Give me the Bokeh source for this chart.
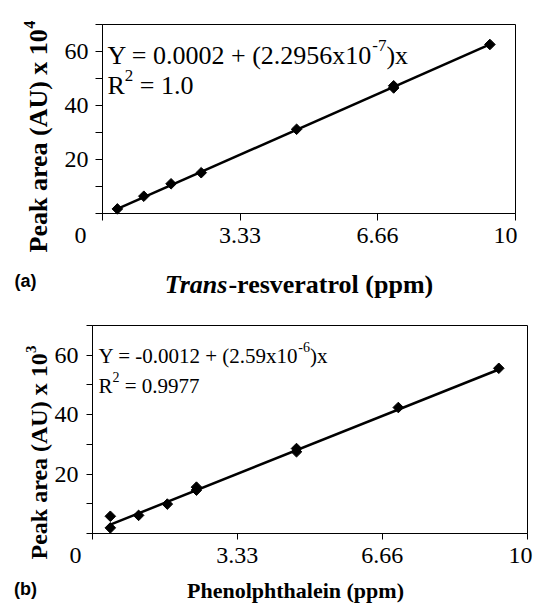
import math
from bokeh.plotting import figure
from bokeh.models import Range1d, FixedTicker, Label, LinearAxis
from bokeh.layouts import column
from bokeh.embed import file_html
from bokeh.resources import INLINE

# ---------------- data ----------------
res_conc = [0.36, 1.00, 1.66, 2.39, 4.70, 7.05, 7.05, 9.38]
res_area = [1.7, 6.4, 11.0, 15.1, 31.2, 46.5, 47.3, 62.6]
res_fit_x = [0.36, 9.38]
res_fit_y = [1.7, 62.6]

phe_conc = [0.41, 0.41, 1.06, 1.72, 2.39, 2.39, 4.69, 4.69, 7.03, 9.34]
phe_area = [5.8, 1.9, 6.1, 9.9, 14.6, 15.6, 27.5, 28.6, 42.4, 55.6]
phe_fit_x = [0.41, 9.34]
phe_fit_y = [3.0, 55.2]

x_range_data = (0, 10)
y_range_data = (0, 70)
x_major = [3.33, 6.66]
x_minor = [0, 10]
y_major = [20, 40, 60]
y_minor = [0, 10, 30, 50, 70]

SERIF = "Liberation Serif"
SANS = "Liberation Sans"
ORIGIN = 0  # page offset of the layout (positions below are page pixels)

# Times-compatible advance widths (1/1000 em) for placing superscripts
REG = {' ': 250, '.': 250, '=': 564, '+': 564, '-': 333, '(': 333, ')': 333,
       'x': 500, 'Y': 722, 'R': 667}
BOLD = {' ': 250, 'P': 611, 'e': 444, 'a': 500, 'k': 556, 'r': 444, '(': 333,
        'A': 722, 'U': 722, ')': 333, 'x': 500, '-': 333, 's': 389, 'v': 500,
        't': 333, 'o': 500, 'l': 278, 'p': 556, 'm': 833, 'h': 556, 'n': 556,
        'i': 278}
BOLDIT = {'T': 611, 'r': 389, 'a': 500, 'n': 556, 's': 389}


def tw(s, size, table=REG):
    return sum(table.get(c, 500) for c in s) * size / 1000.0


def make_panel(W, H, ytop, fl, fr, ft, fb, tick, standoff):
    """Canvas in page pixels; the data box spans fl..fr x ft..fb (page px)."""
    xl = ORIGIN
    p = figure(width=W, height=H, output_backend="svg", toolbar_location=None,
               x_axis_type=None, y_axis_type=None,
               x_range=Range1d(xl, xl + W), y_range=Range1d(ytop + H, ytop),
               min_border=0)
    p.min_border_left = p.min_border_right = 0
    p.min_border_top = p.min_border_bottom = 0
    p.outline_line_color = None
    p.background_fill_color = "white"
    p.border_fill_color = "white"
    x0, x1 = x_range_data
    y0, y1 = y_range_data
    kx = (fr - fl) / (x1 - x0)
    ky = (fb - ft) / (y1 - y0)
    p.extra_x_ranges = {"d": Range1d(x0 - (fl - xl) / kx,
                                     x0 + (xl + W - fl) / kx)}
    p.extra_y_ranges = {"d": Range1d(y0 - (ytop + H - fb) / ky,
                                     y0 + (fb - ytop) / ky)}

    xa = LinearAxis(x_range_name="d", fixed_location=fb, bounds=x_range_data,
                    ticker=FixedTicker(ticks=x_major, minor_ticks=x_minor))
    ya = LinearAxis(y_range_name="d", fixed_location=fl, bounds=y_range_data,
                    ticker=FixedTicker(ticks=y_major, minor_ticks=y_minor))
    for ax in (xa, ya):
        ax.axis_line_color = "black"
        ax.axis_line_width = 1
        ax.major_tick_line_color = "black"
        ax.minor_tick_line_color = "black"
        ax.major_tick_in = 0
        ax.minor_tick_in = 0
        ax.major_tick_out = tick
        ax.minor_tick_out = tick
        ax.major_label_standoff = standoff
        ax.major_label_text_font = SERIF
        ax.major_label_text_font_size = "24px"
        ax.major_label_text_color = "black"
    p.add_layout(xa, "below")
    p.add_layout(ya, "left")
    # plot box (top and right edges)
    p.quad(left=[x0], right=[x1], bottom=[y0], top=[y1],
           x_range_name="d", y_range_name="d",
           fill_color=None, line_color="black", line_width=1)
    return p


def add_label(p, px, py, text, size, style="normal", font=SERIF,
              align="left", baseline="alphabetic", angle=0.0):
    p.add_layout(Label(x=px, y=py, text=text,
                       text_font=font, text_font_size=f"{size}px",
                       text_font_style=style, text_color="black",
                       text_align=align, text_baseline=baseline,
                       angle=angle))


# ---------------- panel (a) ----------------
p1 = make_panel(534, 298, 0, 102, 515, 24, 213, 7, 7)

p1.line(res_fit_x, res_fit_y, line_color="black", line_width=2.5,
        x_range_name="d", y_range_name="d")
p1.scatter(res_conc, res_area, marker="square", angle=math.pi / 4, size=7.5,
           fill_color="black", line_color="black",
           x_range_name="d", y_range_name="d")

eq1 = "Y = 0.0002 + (2.2956x10"
x0 = 107
add_label(p1, x0, 55, eq1, 26)
xs = x0 + tw(eq1, 26)
add_label(p1, xs, 45, "-7", 17)
add_label(p1, xs + tw("-7", 17), 55, ")x", 26)
add_label(p1, x0, 85, "R", 26)
xs = x0 + tw("R", 26)
add_label(p1, xs, 75, "2", 17)
add_label(p1, xs + tw("2", 17) + tw(" ", 26), 85, "= 1.0", 26)

yt = "Peak area (AU) x 10"
add_label(p1, 38, 252, yt, 26, style="bold", angle=math.pi / 2)
add_label(p1, 29, 252 - tw(yt, 26, BOLD), "4", 16, style="bold",
          angle=math.pi / 2)

t_it = "Trans"
t_rest = "-resveratrol (ppm)"
tot = tw(t_it, 26, BOLDIT) + tw(t_rest, 26, BOLD)
xs = 299 - tot / 2
add_label(p1, xs, 284, t_it, 26, style="bold italic")
add_label(p1, xs + tw(t_it, 26, BOLDIT), 284, t_rest, 26, style="bold")

add_label(p1, 80, 227, "0", 24, align="center", baseline="top")
add_label(p1, 505, 227, "10", 24, align="center", baseline="top")
add_label(p1, 25, 280, "(a)", 18, style="bold", font=SANS,
          align="center", baseline="middle")

# ---------------- panel (b) ----------------
p2 = make_panel(534, 305, 298, 92, 527, 325, 533, 6, 8)

p2.line(phe_fit_x, phe_fit_y, line_color="black", line_width=2.5,
        x_range_name="d", y_range_name="d")
p2.scatter(phe_conc, phe_area, marker="square", angle=math.pi / 4, size=7.5,
           fill_color="black", line_color="black",
           x_range_name="d", y_range_name="d")

eq2 = "Y = -0.0012 + (2.59x10"
x0 = 98
add_label(p2, x0, 355, eq2, 21)
xs = x0 + tw(eq2, 21)
add_label(p2, xs, 346, "-6", 14)
add_label(p2, xs + tw("-6", 14), 355, ")x", 21)
add_label(p2, x0, 385, "R", 21)
xs = x0 + tw("R", 21)
add_label(p2, xs, 376, "2", 14)
add_label(p2, xs + tw("2", 14) + tw(" ", 21), 385, "= 0.9977", 21)

yt2 = "Peak area (AU) x 10"
add_label(p2, 38, 559, yt2, 24, style="bold", angle=math.pi / 2)
add_label(p2, 30, 559 - tw(yt2, 24, BOLD), "3", 15, style="bold",
          angle=math.pi / 2)

add_label(p2, 295, 590, "Phenolphthalein (ppm)", 22, style="bold",
          align="center")

add_label(p2, 75, 547, "0", 24, align="center", baseline="top")
add_label(p2, 532, 547, "10", 24, align="right", baseline="top")
add_label(p2, 25, 588, "(b)", 18, style="bold", font=SANS,
          align="center", baseline="middle")

layout = column(p1, p2, spacing=0)
open("out.html", "w").write(file_html(layout, INLINE))
